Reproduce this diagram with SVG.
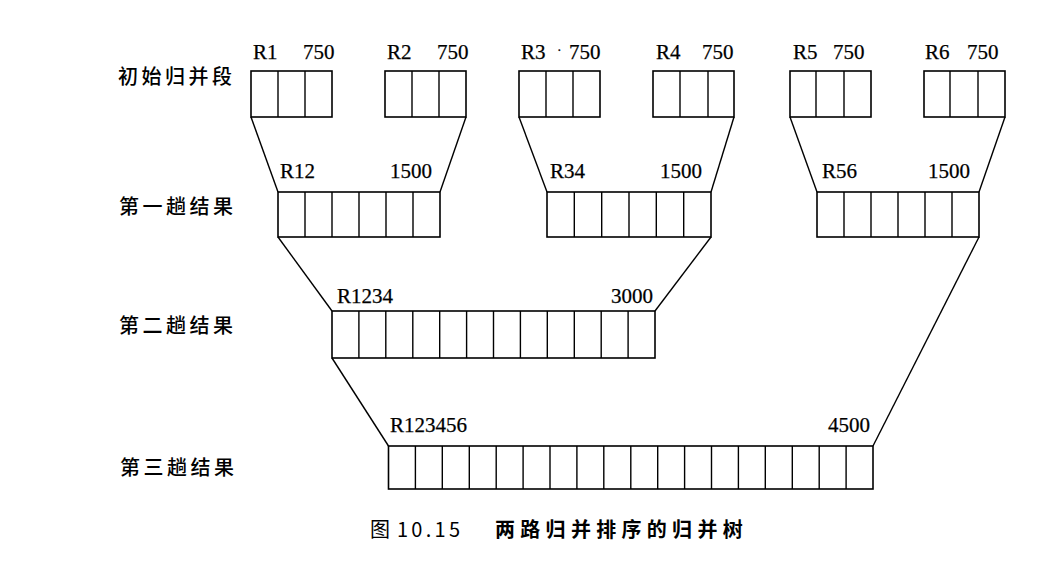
<svg xmlns="http://www.w3.org/2000/svg" width="1045" height="568" viewBox="0 0 1045 568">
<style>
.box{fill:none;stroke:#000;stroke-width:1.6}
.div{stroke:#000;stroke-width:1.4}
.con line{stroke:#000;stroke-width:1.4}
.lbl{font-family:"Liberation Serif","Times New Roman",serif;font-size:21px;fill:#000;stroke:#000;stroke-width:0.25}
.row{font-family:"Noto Sans CJK SC",sans-serif;font-size:20px;font-weight:500;letter-spacing:3.5px;fill:#000}
.cap{font-family:"Noto Sans CJK SC",sans-serif;font-size:20px;fill:#000}
</style>
<rect width="1045" height="568" fill="#fff"/>
<g id="row-labels">
<text class="row" x="118" y="84">初始归并段</text>
<text class="row" x="119" y="214">第一趟结果</text>
<text class="row" x="119" y="333">第二趟结果</text>
<text class="row" x="120" y="475">第三趟结果</text>
</g>
<g id="connectors" class="con">
<line x1="251" y1="117" x2="278" y2="192"/>
<line x1="466" y1="117" x2="440" y2="192"/>
<line x1="519" y1="117" x2="547" y2="192"/>
<line x1="734" y1="117" x2="711" y2="192"/>
<line x1="790" y1="117" x2="817" y2="192"/>
<line x1="1005" y1="117" x2="979" y2="192"/>
<line x1="278" y1="237" x2="332" y2="311"/>
<line x1="711" y1="237" x2="655" y2="311"/>
<line x1="332" y1="358" x2="388.5" y2="446"/>
<line x1="979" y1="237" x2="873" y2="446"/>
</g>
<g id="R1">
<rect class="box" x="251" y="71" width="81" height="46"/>
<line class="div" x1="278" y1="71" x2="278" y2="117"/><line class="div" x1="305" y1="71" x2="305" y2="117"/>
<text class="lbl" x="253" y="59">R1</text><text class="lbl" x="303" y="59">750</text>
</g>
<g id="R2">
<rect class="box" x="385" y="71" width="81" height="46"/>
<line class="div" x1="412" y1="71" x2="412" y2="117"/><line class="div" x1="439" y1="71" x2="439" y2="117"/>
<text class="lbl" x="387" y="59">R2</text><text class="lbl" x="437" y="59">750</text>
</g>
<g id="R3">
<rect class="box" x="519" y="71" width="81" height="46"/>
<line class="div" x1="546" y1="71" x2="546" y2="117"/><line class="div" x1="573" y1="71" x2="573" y2="117"/>
<text class="lbl" x="521" y="59">R3</text><text class="lbl" x="557" y="55" style="font-size:14px">·</text><text class="lbl" x="569" y="59">750</text>
</g>
<g id="R4">
<rect class="box" x="653" y="71" width="81" height="46"/>
<line class="div" x1="680" y1="71" x2="680" y2="117"/><line class="div" x1="708" y1="71" x2="708" y2="117"/>
<text class="lbl" x="656" y="59">R4</text><text class="lbl" x="702" y="59">750</text>
</g>
<g id="R5">
<rect class="box" x="790" y="71" width="81" height="46"/>
<line class="div" x1="816" y1="71" x2="816" y2="117"/><line class="div" x1="844" y1="71" x2="844" y2="117"/>
<text class="lbl" x="793" y="59">R5</text><text class="lbl" x="833" y="59">750</text>
</g>
<g id="R6">
<rect class="box" x="924" y="71" width="81" height="46"/>
<line class="div" x1="950" y1="71" x2="950" y2="117"/><line class="div" x1="978" y1="71" x2="978" y2="117"/>
<text class="lbl" x="925" y="59">R6</text><text class="lbl" x="967" y="59">750</text>
</g>
<g id="R12">
<rect class="box" x="278" y="192" width="162" height="45"/>
<path class="div" d="M305 192V237M332 192V237M359 192V237M386 192V237M413 192V237"/>
<text class="lbl" x="280" y="178">R12</text><text class="lbl" x="390" y="178">1500</text>
</g>
<g id="R34">
<rect class="box" x="547" y="192" width="164" height="45"/>
<path class="div" d="M574.3 192V237M601.7 192V237M629 192V237M656.3 192V237M683.7 192V237"/>
<text class="lbl" x="550" y="178">R34</text><text class="lbl" x="660" y="178">1500</text>
</g>
<g id="R56">
<rect class="box" x="817" y="192" width="162" height="45"/>
<path class="div" d="M844 192V237M871 192V237M898 192V237M925 192V237M952 192V237"/>
<text class="lbl" x="822" y="178">R56</text><text class="lbl" x="928" y="178">1500</text>
</g>
<g id="R1234">
<rect class="box" x="332" y="311" width="323" height="47"/>
<path class="div" d="M358.9 311V358M385.8 311V358M412.8 311V358M439.7 311V358M466.6 311V358M493.5 311V358M520.4 311V358M547.3 311V358M574.3 311V358M601.2 311V358M628.1 311V358"/>
<text class="lbl" x="337" y="303">R1234</text><text class="lbl" x="653" y="303" text-anchor="end">3000</text>
</g>
<g id="R123456">
<rect class="box" x="388.5" y="446" width="484.5" height="43"/>
<path class="div" d="M415.4 446V489M442.3 446V489M469.3 446V489M496.2 446V489M523.1 446V489M550 446V489M576.9 446V489M603.8 446V489M630.8 446V489M657.7 446V489M684.6 446V489M711.5 446V489M738.4 446V489M765.3 446V489M792.3 446V489M819.2 446V489M846.1 446V489"/>
<text class="lbl" x="390" y="432">R123456</text><text class="lbl" x="870" y="432" text-anchor="end">4500</text>
</g>
<g id="caption">
<text class="cap" x="370" y="537">图</text>
<text class="cap" x="397" y="537" textLength="63" lengthAdjust="spacing">10.15</text>
<text class="cap" x="495" y="537" style="font-weight:bold;letter-spacing:5.3px">两路归并排序的归并树</text>
</g>
</svg>
